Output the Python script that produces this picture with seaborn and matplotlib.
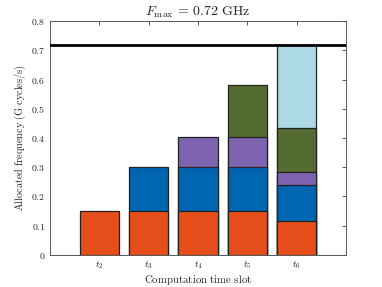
import numpy as np
import pandas as pd
import matplotlib
matplotlib.use("Agg")
import matplotlib.pyplot as plt
import seaborn as sns

slots = ["t2", "t3", "t4", "t5", "t6"]
tick_labels = [r"$t_2$", r"$t_3$", r"$t_4$", r"$t_5$", r"$t_6$"]
seg_orange = [0.15, 0.15, 0.15, 0.15, 0.115]
seg_blue = [0.0, 0.15, 0.15, 0.15, 0.125]
seg_purple = [0.0, 0.0, 0.105, 0.105, 0.045]
seg_green = [0.0, 0.0, 0.0, 0.175, 0.15]
seg_light = [0.0, 0.0, 0.0, 0.0, 0.285]
f_max = 0.72
colors = ["#E64E1C", "#0066B2", "#7E63B0", "#546B31", "#ADD8E6"]

sns.set_style("white")
plt.rcParams["mathtext.fontset"] = "cm"
plt.rcParams["font.family"] = ["DejaVu Serif"]

fig = plt.figure(figsize=(3.82, 2.87), dpi=100)
ax = fig.add_axes([0.131, 0.1125, 0.775, 0.8135])

segs = [seg_orange, seg_blue, seg_purple, seg_green, seg_light]
cum = np.cumsum(np.array(segs), axis=0)
# draw from top layer down so lower segments overlay
for i in range(len(segs) - 1, -1, -1):
    vals = cum[i]
    mask = np.array(segs[i]) > 0
    df = pd.DataFrame({"slot": np.array(slots)[mask], "val": vals[mask]})
    sns.barplot(data=df, x="slot", y="val", order=slots, color=colors[i],
                saturation=1, width=0.8, edgecolor="#222222", linewidth=0.9,
                ax=ax, errorbar=None)

ax.axhline(f_max, color="black", linewidth=2, zorder=5)
ax.set_xlim(-1, 5)
ax.set_ylim(0, 0.8)
ax.set_yticks(np.arange(0, 0.81, 0.1))
ax.set_yticklabels([r"$\mathrm{0}$"] + [r"$\mathrm{%.1f}$" % v for v in np.arange(0.1, 0.81, 0.1)])
ax.set_xticks(range(len(slots)))
ax.set_xticklabels(tick_labels)
ax.tick_params(axis="both", direction="in", length=3, width=0.6, labelsize=7,
               top=True, right=True, colors="#444444", labelcolor="#222222")
for s in ax.spines.values():
    s.set_color("#555555")
    s.set_linewidth(0.7)
ax.set_xlabel(r"$\mathrm{Computation\ time\ slot}$", fontsize=7.8, labelpad=1)
ax.set_ylabel(r"$\mathrm{Allocated\ frequency\ (G\ cycles/s)}$", fontsize=7.4, labelpad=2)
ax.set_title(r"$F_{\max}\,=\,0.72\ \mathrm{GHz}$", fontsize=10, pad=4)

fig.savefig("out.png", dpi=100)
